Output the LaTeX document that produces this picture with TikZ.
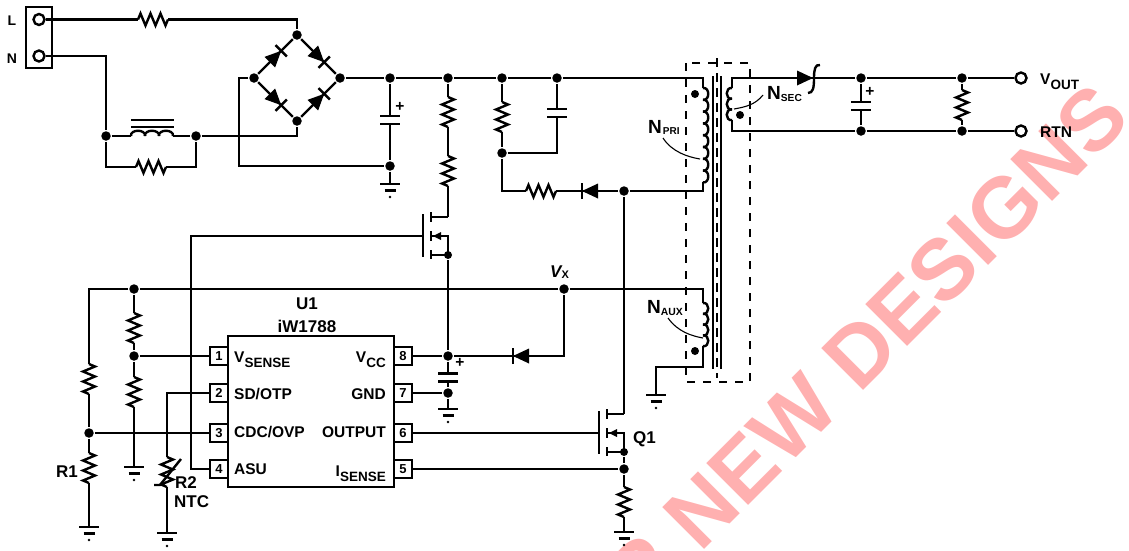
\documentclass[tikz,border=0pt]{standalone}
\usepackage{fontspec}
\setmainfont{Liberation Sans}
\usetikzlibrary{calc}
\definecolor{wmark}{HTML}{FFB0B0}
\tikzstyle{dot}=[fill=black,circle,minimum size=9.5pt,inner sep=0pt]
\tikzstyle{term}=[draw,fill=white,circle,minimum size=11pt,inner sep=0pt]
\tikzstyle{pinbox}=[draw,fill=white,minimum size=18pt,inner sep=0pt,font=\bfseries\fontsize{13}{13}\selectfont]
\tikzstyle{lbl}=[inner sep=0pt,font=\bfseries\fontsize{15.5}{17}\selectfont]
\tikzstyle{big}=[inner sep=0pt,font=\bfseries\fontsize{17}{19}\selectfont]
\tikzstyle{winding}=[inner sep=0pt,font=\bfseries\fontsize{19}{21}\selectfont]
\newcommand{\subtxt}[3]{\raisebox{-#1pt}{\fontsize{#2}{#2}\selectfont #3}}
\tikzset{
  pics/resh/.style={code={
    \coordinate (-a) at (-15,0); \coordinate (-b) at (15,0);
    \draw (-15,0) -- (-12.5,-6) -- (-7.5,6) -- (-2.5,-6) -- (2.5,6) -- (7.5,-6) -- (12.5,6) -- (15,0);}},
  pics/resv/.style={code={
    \coordinate (-a) at (0,-15); \coordinate (-b) at (0,15);
    \draw (0,-15) -- (6,-12.5) -- (-6,-7.5) -- (6,-2.5) -- (-6,2.5) -- (6,7.5) -- (-6,12.5) -- (0,15);}},
  pics/capv/.style={code={
    \coordinate (-a) at (0,-4); \coordinate (-b) at (0,4);
    \draw (-10,-4) -- (10,-4); \draw (-10,4) -- (10,4);}},
  pics/gnd/.style={code={
    \coordinate (-a) at (0,0);
    \draw (-10,0) -- (10,0); \draw (-5.5,6.5) -- (5.5,6.5);
    \fill (0,13) circle (1.4);}},
  pics/diode/.style={code={
    \fill (-8,-7.5) -- (8,0) -- (-8,7.5) -- cycle;
    \draw (8,-8) -- (8,8);}},
  pics/schottky/.style={code={
    \fill (-8,-7.5) -- (8,0) -- (-8,7.5) -- cycle;
    \draw (15,-13) .. controls (10,-14) and (9,-8) .. (9,0) .. controls (9,10) and (8,15) .. (3,15);}},
  pics/coilv/.style n args={3}{code={
    \coordinate (-a) at (0,0); \coordinate (-b) at (0,#1*#2);
    \foreach \k in {1,...,#1}
      \draw (0,{(\k-1)*#2}) .. controls (#3,{(\k-1)*#2-1}) and (#3,{\k*#2+1}) .. (0,{\k*#2});}},
  pics/nfet/.style={code={
    \coordinate (-g) at (0,0); \coordinate (-d) at (25,-19); \coordinate (-s) at (25,19);
    \draw (0,-22) -- (0,21);
    \draw (8,-24) -- (8,-14); \draw (8,-5) -- (8,5); \draw (8,14) -- (8,23);
    \draw (8,-19) -- (25,-19); \draw (8,0) -- (25,0) -- (25,19) -- (8,19);
    \fill (10,0) -- (18,-4) -- (18,4) -- cycle;}}
}
\begin{document}
\begin{tikzpicture}[x=1pt,y=-1pt,line width=2.4pt,line join=miter]
\useasboundingbox (0,0) rectangle (1129,550);
\begin{scope}
\clip (0,0) rectangle (1129,550);
\node [rotate=45,anchor=base east,inner sep=0pt,text=wmark,font=\bfseries\fontsize{86}{86}\selectfont] (mark) at (1134,120) {R NEW DESIGNS};
\end{scope}

% input connector
\draw (26,7) rectangle (52,68);
\node [term] (tl) at (39,19.5) {};
\node [term] (tn) at (39,56) {};
\node [big,font=\bfseries\fontsize{14}{14}\selectfont,anchor=base] (ll) at (12,25) {L};
\node [big,font=\bfseries\fontsize{14}{14}\selectfont,anchor=base] (ln) at (12,63) {N};

% input filter
\node [dot] (bt) at (297,35) {};
\node [dot] (bl) at (254,78) {};
\node [dot] (br) at (340,78) {};
\node [dot] (bb) at (297,121) {};
\node [dot] (fa) at (106,136) {};
\node [dot] (fb) at (196,136) {};
\pic (rl) at (153,19.5) {resh};
\pic (rf) at (151,167) {resh};
\pic [rotate=90] (lf) at (131,136) {coilv={3}{14}{7}};
\draw (131,120) -- (174,120);
\draw (131,127) -- (174,127);
\draw (tl) -- (rl-a);
\draw (rl-b) -| (bt);
\draw (tn) -| (fa);
\draw (fa) -- (lf-a);
\draw (lf-b) -- (fb);
\draw (fb) -| (bb);
\draw (fa) |- (rf-a);
\draw (rf-b) -| (fb);

% bridge
\draw (bl) -- (bt) -- (br) -- (bb) -- (bl);
\pic [rotate=45] at (275.5,56.5) {diode};
\pic [rotate=-45] at (318.5,56.5) {diode};
\pic [rotate=-45] at (275.5,99.5) {diode};
\pic [rotate=45] at (318.5,99.5) {diode};

% bulk cap and rail
\node [dot] (n390) at (390,78) {};
\node [dot] (n448) at (448,78) {};
\node [dot] (n502) at (502,78) {};
\node [dot] (n557) at (557,78) {};
\node [dot] (nc1) at (390,166) {};
\coordinate (blc) at (239,78);
\pic (c1) at (390,120) {capv};
\pic (g1) at (390,184) {gnd};
\node [lbl,anchor=center] (p1) at (400,107) {+};
\draw (br) -- (n390) -- (n448) -- (n502) -- (n557);
\draw (n390) -- (c1-a);
\draw (c1-b) -- (nc1);
\draw (nc1) -- (g1-a);
\draw (bl) -- (blc) |- (nc1);

% startup fet
\pic (r2) at (448,112) {resv};
\pic (r3) at (448,171) {resv};
\pic (m1) at (423,236) {nfet};
\node [dot,minimum size=8pt] (ms) at (m1-s) {};
\coordinate (gc) at (191,236);
\draw (n448) -- (r2-a);
\draw (r2-b) -- (r3-a);
\draw (r3-b) -- (m1-d);

% clamp
\node [dot] (n153) at (502,153) {};
\node [dot] (n624) at (624,191) {};
\pic (r4) at (502,117) {resv};
\pic (c2) at (557,113) {capv};
\pic (r5) at (541,191) {resh};
\pic [rotate=180] at (590,191) {diode};
\draw (n502) -- (r4-a);
\draw (r4-b) -- (n153);
\draw (n153) -| (c2-b);
\draw (c2-a) -- (n557);
\draw (n153) |- (r5-a);
\draw (r5-b) -- (n624);

% transformer
\draw [dash pattern=on 8pt off 8pt] (686,63) rectangle (750,382);
\draw (713,76) -- (713,369);
\draw (721,76) -- (721,369);
\draw [line width=1.2pt,dash pattern=on 9pt off 6pt] (717,58) -- (717,378);
\pic (pri) at (703,88) {coilv={8}{11.8}{7}};
\pic (aux) at (703,303) {coilv={4}{10.8}{7}};
\pic (sec) at (732,88) {coilv={3}{10.7}{-7}};
\node [dot,minimum size=8pt] (dp) at (695,94) {};
\node [dot,minimum size=8pt] (da) at (695,351) {};
\node [dot,minimum size=8pt] (ds) at (740,115) {};
\draw (n557) -| (pri-a);
\draw (pri-b) |- (n624);
\coordinate (auxc) at (656,367);
\pic (g5) at (656,395) {gnd};
\draw (aux-b) |- (auxc) -- (g5-a);
\node [winding] (npri) at (647,133) [anchor=base west] {N\hspace{1pt}\subtxt{1}{10}{PRI}};
\node [winding] (naux) at (646,313) [anchor=base west] {N\subtxt{2}{10.4}{AUX}};
\node [winding] (nsec) at (766,99) [anchor=base west] {N\subtxt{2}{10.2}{SEC}};
\draw [line width=1.1pt] (663,138) .. controls (672,152) and (688,157) .. (700,159);
\draw [line width=1.1pt] (668,318) .. controls (678,332) and (692,336) .. (703,338);
\draw [line width=1.1pt] (763,95) .. controls (755,105) and (745,107) .. (734,109);

% output
\node [dot] (o1) at (861,78) {};
\node [dot] (o2) at (962,78) {};
\node [dot] (o3) at (861,131) {};
\node [dot] (o4) at (962,131) {};
\node [term] (tv) at (1021,78) {};
\node [term] (tr) at (1021,131) {};
\pic (c3) at (861,106) {capv};
\pic (r6) at (962,105) {resv};
\pic at (805,78) {schottky};
\node [lbl,anchor=center] (p3) at (870,92) {+};
\draw (sec-a) |- (o1);
\draw (sec-b) |- (o3);
\draw (o1) -- (o2) -- (tv);
\draw (o3) -- (o4) -- (tr);
\draw (o1) -- (c3-a);
\draw (c3-b) -- (o3);
\draw (o2) -- (r6-a);
\draw (r6-b) -- (o4);
\node [lbl,anchor=base west] (vout) at (1039,84) {V\subtxt{5}{13.5}{OUT}};
\node [lbl,anchor=base west] (rtn) at (1039,137) {RTN};

% controller
\node [draw,minimum width=166pt,minimum height=151pt,inner sep=0pt] (u1) at (311,411.5) {};
\node [big,anchor=base] (u1a) at (307,309) {U1};
\node [big,anchor=base] (u1b) at (307,332) {iW1788};
\node [pinbox] (pin1) at (219,356) {1};
\node [pinbox] (pin2) at (219,393) {2};
\node [pinbox] (pin3) at (219,433) {3};
\node [pinbox] (pin4) at (219,469) {4};
\node [pinbox] (pin8) at (403,356) {8};
\node [pinbox] (pin7) at (403,393) {7};
\node [pinbox] (pin6) at (403,433) {6};
\node [pinbox] (pin5) at (403,469) {5};
\node [lbl,anchor=base west] (lv) at (233,362) {V\subtxt{5}{13.5}{SENSE}};
\node [lbl,anchor=base west] (lsd) at (233,399) {SD/OTP};
\node [lbl,anchor=base west] (lcd) at (233,437) {CDC/OVP};
\node [lbl,anchor=base west] (las) at (233,474) {ASU};
\node [lbl,anchor=base east] (lvc) at (387,362) {V\subtxt{5}{13.5}{CC}};
\node [lbl,anchor=base east] (lgn) at (387,399) {GND};
\node [lbl,anchor=base east] (lou) at (387,437) {OUTPUT};
\node [lbl,anchor=base east] (lis) at (387,476) {I\subtxt{5}{13.5}{SENSE}};
\draw (m1-g) -- (gc) |- (pin4);

% vcc
\node [dot] (n355) at (448,356) {};
\node [dot] (n393) at (448,393) {};
\node [dot] (vx) at (564,289) {};
\pic (c4) at (448,377.5) {capv};
\pic (g4) at (448,409) {gnd};
\pic [rotate=180] at (521,356) {diode};
\node [lbl,anchor=center] (p4) at (460,363) {+};
\node [big,anchor=base west,font=\bfseries\itshape\fontsize{17}{19}\selectfont] (lvx) at (549,277) {V\subtxt{1}{11}{\upshape X}};
\draw (ms) -- (n355);
\draw (pin8) -- (n355);
\draw (n355) -- (c4-a);
\draw (c4-b) -- (n393);
\draw (pin7) -- (n393);
\draw (n393) -- (g4-a);
\draw (vx) |- (n355);

% aux divider
\node [dot] (n134) at (134,289) {};
\node [dot] (n134b) at (134,356) {};
\node [dot] (n89) at (89,433) {};
\pic (r7) at (134,328) {resv};
\pic (r8) at (134,392) {resv};
\pic (r9) at (89,379) {resv};
\pic (r1) at (89,468) {resv};
\pic (g6) at (134,467) {gnd};
\pic (g7) at (89,527) {gnd};
\draw (vx) -| (aux-a);
\draw (vx) -- (n134);
\draw (n134) -| (r9-a);
\draw (n134) -- (r7-a);
\draw (r7-b) -- (n134b);
\draw (n134b) -- (pin1);
\draw (n134b) -- (r8-a);
\draw (r8-b) -- (g6-a);
\draw (r9-b) -- (n89);
\draw (n89) -- (pin3);
\draw (n89) -- (r1-a);
\draw (r1-b) -- (g7-a);
\node [big,anchor=base west] (lr1) at (55,477) {R1};

% thermistor
\pic (r10) at (167,472) {resv};
\pic (g8) at (167,533) {gnd};
\draw (pin2) -| (r10-a);
\draw (r10-b) -- (g8-a);
\draw (154,485) -- (160,485) -- (181,459);
\node [big,anchor=base west] (lr2) at (174,488) {R2};
\node [big,anchor=base west] (lntc) at (173,507) {NTC};

% switch
\pic (q1) at (599,433) {nfet};
\node [dot,minimum size=8pt] (qs) at (q1-s) {};
\node [dot] (n469) at (624,469) {};
\pic (r11) at (624,502) {resv};
\pic (g9) at (624,532) {gnd};
\draw (n624) -- (q1-d);
\draw (pin6) -- (q1-g);
\draw (qs) -- (n469);
\draw (pin5) -- (n469);
\draw (n469) -- (r11-a);
\draw (r11-b) -- (g9-a);
\node [big,anchor=base west] (lq1) at (632,443) {Q1};
\end{tikzpicture}
\end{document}
